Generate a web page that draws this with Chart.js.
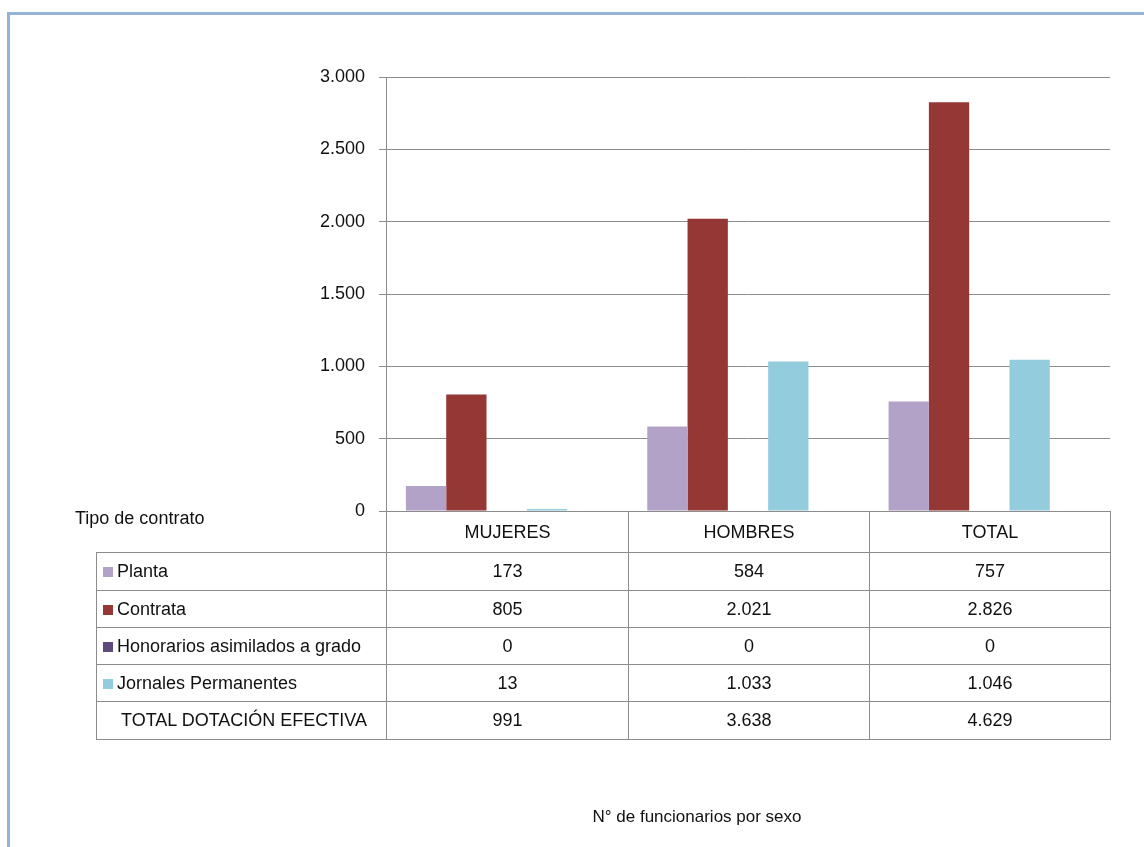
<!DOCTYPE html>
<html>
<head>
<meta charset="utf-8">
<script src="https://cdn.jsdelivr.net/npm/chart.js@4"></script>
<style>
    body { margin: 0; background: #fff; font-family: "Liberation Sans", Arial, sans-serif; }
    .frame { position: absolute; left: 7px; top: 12px; width: 1137px; height: 835px;
             border-top: 3px solid #95b3d7; border-left: 3px solid #95b3d7; box-sizing: border-box; }
    #wrap { position: absolute; left: 0; top: 0; width: 1144px; height: 847px; }
    table { position: absolute; left: 96px; top: 511px; width: 1015px; table-layout: fixed;
            border-collapse: collapse; font-size: 18px; color: #111; }
    td { border: 1px solid #8c8c8c; padding: 0; text-align: center; }
    td.lbl { text-align: left; padding-left: 6px; white-space: nowrap; overflow: hidden; }
    td.blank { border: none; }
    .sw { display: inline-block; width: 10px; height: 10px; margin-right: 4px; }
    .side { position: absolute; left: 75px; top: 508px; font-size: 18px; color: #111; }
    .title { position: absolute; left: 0; width: 1394px; top: 807px; text-align: center; font-size: 17px; color: #111; }
</style>
</head>
<body>
<div class="frame"></div>
<div id="wrap"><canvas id="chart"></canvas></div>
<div class="side">Tipo de contrato</div>
<table id="tbl"></table>
<div class="title">N° de funcionarios por sexo</div>
<script>
const categories = ['MUJERES', 'HOMBRES', 'TOTAL'];
const seriesNames = ['Planta', 'Contrata', 'Honorarios asimilados a grado', 'Jornales Permanentes'];
const planta = [173, 584, 757];
const contrata = [805, 2021, 2826];
const honorarios = [0, 0, 0];
const jornales = [13, 1033, 1046];
const totalDotacion = [991, 3638, 4629];
const totalLabel = 'TOTAL DOTACIÓN EFECTIVA';
const yTicks = [0, 500, 1000, 1500, 2000, 2500, 3000];
const colors = ['#b3a2c7', '#953735', '#604a7b', '#93cddd'];

const fmt = v => v.toString().replace(/\B(?=(\d{3})+(?!\d))/g, '.');

const seriesValues = [planta, contrata, honorarios, jornales];

// the total row is a series too, but has no fill (it keeps an empty slot in each group)
const datasets = seriesValues.map((vals, i) => ({
    label: seriesNames[i],
    data: vals,
    backgroundColor: colors[i],
    borderWidth: 0,
    categoryPercentage: 0.835,
    barPercentage: 1.0
}));
datasets.push({
    label: totalLabel,
    data: totalDotacion,
    backgroundColor: 'rgba(0,0,0,0)',
    borderWidth: 0,
    categoryPercentage: 0.835,
    barPercentage: 1.0
});

const config = {
    type: 'bar',
    data: { labels: categories, datasets: datasets },
    options: {
        responsive: true,
        maintainAspectRatio: false,
        animation: false,
        layout: { padding: { top: 77, right: 34, bottom: 336, left: 0 } },
        plugins: { legend: { display: false }, tooltip: { enabled: false } },
        scales: {
            x: { display: false },
            y: {
                min: 0,
                max: 3000,
                afterFit: scale => { scale.width = 386; },
                afterBuildTicks: scale => { scale.ticks = yTicks.map(v => ({ value: v })); },
                grid: { color: '#8c8c8c', tickLength: 7, lineWidth: 1 },
                border: { color: '#8c8c8c' },
                ticks: {
                    padding: 14,
                    color: '#111',
                    font: { family: '"Liberation Sans", Arial, sans-serif', size: 18 },
                    callback: v => fmt(v)
                }
            }
        }
    }
};

new Chart(document.getElementById('chart'), config);

// data table under the chart
const tbl = document.getElementById('tbl');
const colW = [290, 242, 241, 241];
const rowH = [41, 38, 37, 37, 37, 38];
let html = '<colgroup>' + colW.map(w => '<col style="width:' + w + 'px">').join('') + '</colgroup>';
html += '<tr style="height:' + rowH[0] + 'px"><td class="blank"></td>';
categories.forEach(c => { html += '<td>' + c + '</td>'; });
html += '</tr>';
seriesNames.forEach((name, i) => {
    html += '<tr style="height:' + rowH[i + 1] + 'px"><td class="lbl"><span class="sw" style="background:' + colors[i] + '"></span>' + name + '</td>';
    seriesValues[i].forEach(v => { html += '<td>' + fmt(v) + '</td>'; });
    html += '</tr>';
});
html += '<tr style="height:' + rowH[5] + 'px"><td class="lbl" style="padding-left:24px">' + totalLabel + '</td>';
totalDotacion.forEach(v => { html += '<td>' + fmt(v) + '</td>'; });
html += '</tr>';
tbl.innerHTML = html;
</script>
</body>
</html>
